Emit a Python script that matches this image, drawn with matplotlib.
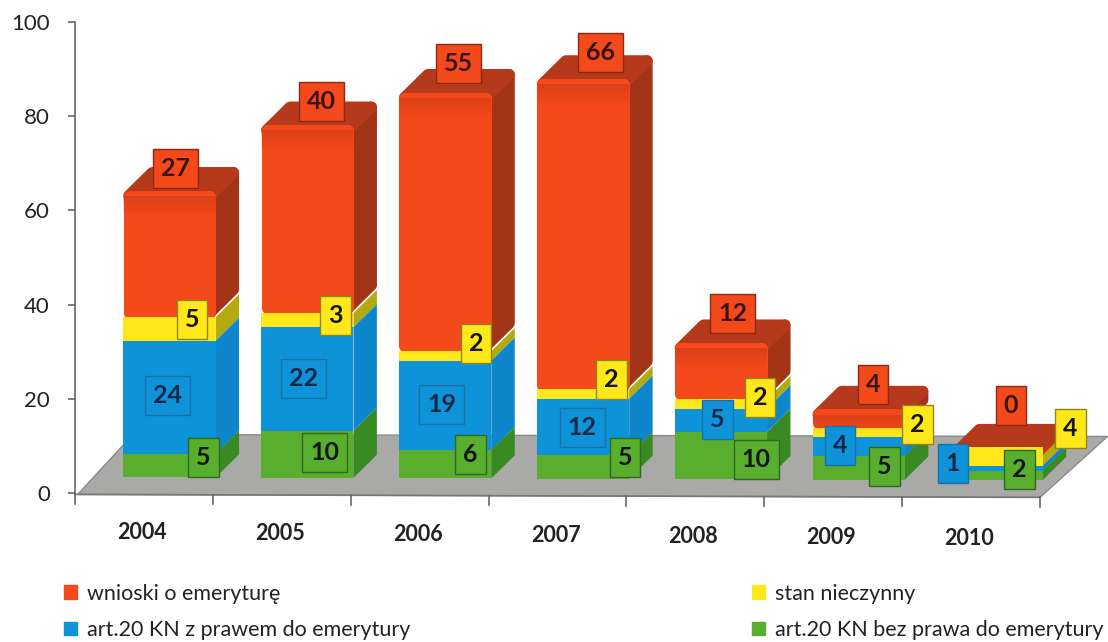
import matplotlib
matplotlib.use('Agg')
import matplotlib.pyplot as plt
from matplotlib.patches import Polygon, Patch

plt.rcParams['font.family'] = ['Lato', 'DejaVu Sans']

# dane
years = ['2004', '2005', '2006', '2007', '2008', '2009', '2010']
green = [5, 10, 6, 5, 10, 5, 2]
blue = [24, 22, 19, 12, 5, 4, 1]
yellow = [5, 3, 2, 2, 2, 2, 4]
red = [27, 40, 55, 66, 12, 4, 0]
names = ['wnioski o emeryturę', 'art.20 KN z prawem do emerytury',
         'stan nieczynny', 'art.20 KN bez prawa do emerytury']

# polozenie etykiet (recznie przesuniete na oryginale)
red_lab_x = [0.73, 1.79, 2.78, 3.81, 4.77, 5.79, 6.79]
red_lab_y = [69, 83.2, 91.1, 93.6, 38.2, 23.1, 18.5]
yellow_lab_x = [0.85, 1.89, 2.91, 3.89, 4.97, 6.11, 7.22]
yellow_lab_y = [36.9, 37.6, 31.8, 24.2, 20.2, 14.6, 13.6]
blue_lab_x = [0.67, 1.66, 2.66, 3.68, 4.66, 5.55, 6.37]
blue_lab_y = [20.6, 24.4, 18.7, 14, 15.7, 10, 6.2]
green_lab_x = [0.93, 1.81, 2.87, 3.99, 4.94, 5.87, 6.85]
green_lab_y = [7.6, 8.5, 8.1, 7.6, 7.2, 5.7, 4.9]

# kolory: przod, bok, ramka etykiety
c_red = ('#F4491B', '#A23418', '#8A2A14')
c_yellow = ('#FFE81A', '#B5A910', '#8F8420')
c_blue = ('#0E93D8', '#0E86CB', '#1A70A8')
c_green = ('#5AAE2E', '#3A8A24', '#2E6B20')
c_top = '#B53A1C'

W, H = 1108, 642
fig = plt.figure(figsize=(W / 100, H / 100), dpi=100)
ax = fig.add_axes([75 / W, (H - 493) / H, 965 / W, 471 / H])
ax.set_xlim(0, 7)
ax.set_ylim(0, 100)

left_off = 0.35
bar_w = 0.67
dep_x = 0.17
dep_y = 4.9
# promien zaokraglenia w jednostkach danych i grubosc krawedzi
ins_x = 0.04
ins_y = 1.17
round_lw = 8.0


def tilt(x):
    # skan jest lekko przekrzywiony
    return -0.3 - 0.09 * x


# podloga
floor = Polygon([(0.02, tilt(0)), (7, tilt(7)), (7.49, 12), (0.42, 12.4)],
                closed=True, fc='#A9A9A7', ec='#8A8A88', lw=1, zorder=1, clip_on=False)
ax.add_patch(floor)

series = [(red, c_red), (yellow, c_yellow), (blue, c_blue), (green, c_green)]
for i in range(len(years)):
    x0 = i + left_off
    y0 = 3.6 + tilt(i)
    total = green[i] + blue[i] + yellow[i] + red[i]
    bottom = y0 + total
    z = 2 + i
    for vals, cols in series:
        v = vals[i]
        bottom -= v
        if v == 0:
            continue
        if vals is red:
            # gruba krawedz na czerwonym daje zaokraglone rogi
            ax.add_patch(Polygon([(x0 + bar_w - ins_x, bottom + 1), (x0 + bar_w + dep_x - ins_x, bottom + dep_y + 1),
                                  (x0 + bar_w + dep_x - ins_x, bottom + v + dep_y - ins_y),
                                  (x0 + bar_w - ins_x, bottom + v - ins_y)],
                                 closed=True, fc=cols[1], ec=cols[1], lw=round_lw, joinstyle='round',
                                 zorder=z, clip_on=False))
            ax.bar(x0 + ins_x, v - ins_y - 1, bar_w - 2 * ins_x, bottom=bottom + 1, align='edge',
                   color=cols[0], edgecolor=cols[0], linewidth=round_lw, joinstyle='round',
                   zorder=z + 0.2, clip_on=False)
            # ciemniejszy pas przy gornej krawedzi, plynne przejscie
            for k in range(8):
                ax.bar(x0, 0.5, bar_w, bottom=bottom + v - 1.7 - 0.5 * k, align='edge', color='#7A1E08',
                       alpha=0.20 - 0.025 * k, linewidth=0, antialiased=False,
                       zorder=z + 0.3, clip_on=False)
        else:
            ax.add_patch(Polygon([(x0 + bar_w, bottom), (x0 + bar_w + dep_x, bottom + dep_y),
                                  (x0 + bar_w + dep_x, bottom + v + dep_y),
                                  (x0 + bar_w, bottom + v)],
                                 closed=True, fc=cols[1], ec='none', zorder=z, clip_on=False))
            ax.bar(x0, v, bar_w, bottom=bottom, align='edge', color=cols[0], linewidth=0,
                   zorder=z + 0.2, clip_on=False)
    # gorna sciana
    t = y0 + total
    ax.add_patch(Polygon([(x0 + ins_x, t - ins_y), (x0 + bar_w - ins_x, t - ins_y),
                          (x0 + bar_w + dep_x - ins_x, t + dep_y - ins_y),
                          (x0 + dep_x + ins_x, t + dep_y - ins_y)],
                         closed=True, fc=c_top, ec=c_top, lw=round_lw, joinstyle='round',
                         zorder=z + 0.1, clip_on=False))

# etykiety wartosci
labels = [(green, green_lab_x, green_lab_y, c_green, '#151515'),
          (blue, blue_lab_x, blue_lab_y, c_blue, '#10294A'),
          (yellow, yellow_lab_x, yellow_lab_y, c_yellow, '#151515'),
          (red, red_lab_x, red_lab_y, c_red, '#3A1410')]
for vals, lx, ly, cols, tc in labels:
    for v, x, y in zip(vals, lx, ly):
        ax.text(x, y, str(v), ha='center', va='center', fontsize=18, fontweight='bold',
                color=tc, zorder=30, clip_on=False,
                bbox=dict(boxstyle='square,pad=0.32', fc=cols[0], ec=cols[2], lw=1))

# osie
for s in ['top', 'right', 'bottom']:
    ax.spines[s].set_visible(False)
ax.spines['left'].set_color('#666666')
ax.spines['left'].set_linewidth(1.2)
ax.set_yticks([0, 20, 40, 60, 80, 100])
ax.tick_params(axis='y', length=5, width=1.2, color='#666666', pad=13,
               labelsize=16, labelcolor='#222222')
ax.set_xticks([])
ax.plot([0, 7], [tilt(0), tilt(7)], color='#777777', lw=1.2, zorder=1.5, clip_on=False)
for i in range(8):
    ax.plot([i, i], [tilt(i), tilt(i) - 2], color='#666666', lw=1.2, clip_on=False)
for i, y in enumerate(years):
    ax.text(i + 0.486, -8.4 - 0.22 * i, y, ha='center', va='center', fontsize=15.5,
            fontweight='bold', color='#222222', clip_on=False)

handles = [Patch(color=c_red[0]), Patch(color=c_blue[0]),
           Patch(color=c_yellow[0]), Patch(color=c_green[0])]
fig.legend(handles, names, ncol=2, loc='lower left', bbox_to_anchor=(64 / W, 2 / H),
           frameon=False, fontsize=15.5, handlelength=0.6, handleheight=0.6,
           handletextpad=0.45, labelspacing=0.75, columnspacing=15.9,
           borderpad=0, borderaxespad=0, labelcolor='#222222')

fig.savefig('out.png', dpi=100)
